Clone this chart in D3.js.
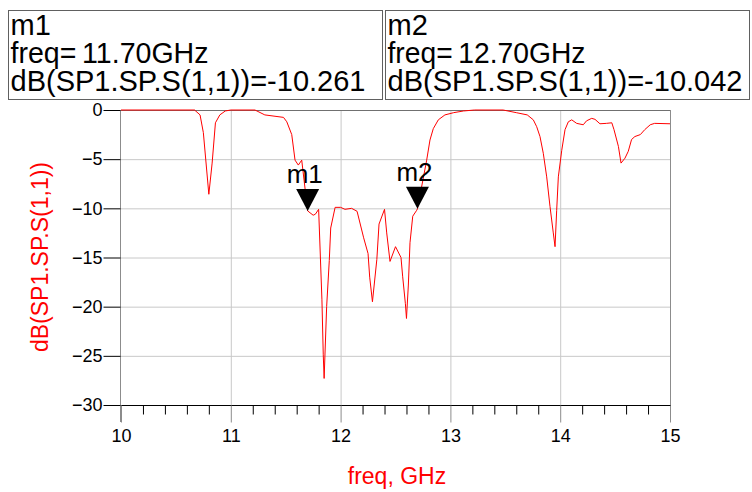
<!DOCTYPE html>
<html>
<head>
<meta charset="utf-8">
<script src="https://cdn.jsdelivr.net/npm/d3@7/dist/d3.min.js"></script>
<style>
  html, body { margin: 0; padding: 0; background: #fff; }
  svg { display: block; font-family: "Liberation Sans", Arial, sans-serif; }
</style>
</head>
<body>
<svg id="chart" width="752" height="492"></svg>
<script>
// Return loss sweep, 10–15 GHz
const freq = [10.00, 10.67, 10.72, 10.75, 10.80, 10.83, 10.86, 10.90, 10.95, 11.00,
  11.22, 11.31, 11.48, 11.51, 11.555, 11.585, 11.615, 11.646, 11.70, 11.75,
  11.77, 11.80, 11.83, 11.842, 11.85, 11.873, 11.897, 11.91, 11.95, 12.00,
  12.04, 12.10, 12.15, 12.21, 12.25, 12.265, 12.29, 12.33, 12.35, 12.40,
  12.42, 12.45, 12.50, 12.55, 12.565, 12.59, 12.60, 12.617, 12.632, 12.657,
  12.693, 12.70, 12.784, 12.814, 12.844, 12.89, 12.95, 13.03, 13.12, 13.22,
  13.48, 13.60, 13.70, 13.755, 13.786, 13.816, 13.846, 13.877, 13.907, 13.937,
  13.953, 13.968, 13.983, 14.014, 14.044, 14.074, 14.105, 14.15, 14.21, 14.24,
  14.287, 14.317, 14.362, 14.42, 14.47, 14.49, 14.53, 14.554, 14.59, 14.62,
  14.65, 14.68, 14.73, 14.77, 14.82, 14.86, 15.00];
const s11dB = [0, 0, -0.5, -2.3, -8.57, -5.4, -1.3, -0.5, -0.1, 0,
  0, -0.5, -0.75, -1.2, -2.5, -5.1, -5.6, -5.1, -10.261, -10.7,
  -10.6, -10.1, -19.3, -24.9, -27.3, -20.0, -15.3, -12.0, -9.9, -9.9,
  -10.1, -10.0, -10.3, -13.0, -14.6, -17.0, -19.5, -15.2, -11.6, -10.1,
  -12.5, -15.4, -13.9, -15.0, -16.9, -19.7, -21.2, -17.8, -13.5, -10.8,
  -10.2, -10.042, -5.1, -3.05, -1.9, -1.0, -0.5, -0.27, -0.1, 0,
  0, -0.27, -0.5, -1.0, -1.7, -2.7, -4.4, -6.8, -9.8, -12.5,
  -13.9, -10.2, -6.8, -4.1, -2.0, -1.2, -1.0, -1.36, -1.5, -1.1,
  -0.85, -0.95, -1.4, -1.36, -1.3, -2.0, -3.7, -5.4, -4.9, -4.2,
  -3.0, -2.7, -2.5, -2.0, -1.5, -1.36, -1.4];

const xTicks = [10, 11, 12, 13, 14, 15];
const xMinorTicks = d3.range(10.2, 15, 0.2).filter(v => Math.abs(v - Math.round(v)) > 1e-6);
const yTicks = [0, -5, -10, -15, -20, -25, -30];

const markerNames = ["m1", "m2"];
const markerFreq = [11.70, 12.70];
const markerValue = [-10.261, -10.042];

const traceName = "dB(SP1.SP.S(1,1))";
const xTitle = "freq, GHz";

const svg = d3.select("#chart");
const plot = { left: 121, top: 110, right: 670, bottom: 405 };

const x = d3.scaleLinear().domain([10, 15]).range([plot.left, plot.right]);
const y = d3.scaleLinear().domain([0, -30]).range([plot.top, plot.bottom]);

const gridColor = "#c8c8c8";
const frameColor = "#8c8c8c";

// grid
const grid = svg.append("g");
grid.selectAll("line.vg").data(xTicks.slice(1, -1)).join("line")
  .attr("x1", d => x(d) + 0.5).attr("x2", d => x(d) + 0.5)
  .attr("y1", plot.top).attr("y2", plot.bottom)
  .attr("stroke", gridColor).attr("stroke-width", 1);
grid.selectAll("line.hg").data(yTicks.slice(1, -1)).join("line")
  .attr("x1", plot.left).attr("x2", plot.right)
  .attr("y1", d => y(d) + 0.5).attr("y2", d => y(d) + 0.5)
  .attr("stroke", gridColor).attr("stroke-width", 1);

// frame: top and right edges, left axis line
svg.append("line").attr("x1", plot.left).attr("x2", plot.right + 1)
  .attr("y1", plot.top + 0.5).attr("y2", plot.top + 0.5)
  .attr("stroke", "#707070");
svg.append("line").attr("x1", plot.right + 0.5).attr("x2", plot.right + 0.5)
  .attr("y1", plot.top).attr("y2", plot.bottom)
  .attr("stroke", frameColor);
svg.append("line").attr("x1", plot.left - 0.5).attr("x2", plot.left - 0.5)
  .attr("y1", plot.top).attr("y2", plot.bottom)
  .attr("stroke", frameColor);

// trace
svg.append("defs").append("clipPath").attr("id", "plotclip")
  .append("rect").attr("x", plot.left).attr("y", plot.top - 1)
  .attr("width", plot.right - plot.left).attr("height", plot.bottom - plot.top + 1);
const line = d3.line().x((d, i) => x(freq[i])).y(d => y(d));
svg.append("path").datum(s11dB)
  .attr("clip-path", "url(#plotclip)")
  .attr("d", line)
  .attr("fill", "none").attr("stroke", "#ff0000").attr("stroke-width", 1);

// y axis
const yAxis = svg.append("g").attr("transform", `translate(${plot.left - 0.5},0)`)
  .call(d3.axisLeft(y).tickValues(yTicks).tickSize(17).tickPadding(1).tickSizeOuter(0)
    .tickFormat(d3.format("d")));
yAxis.select(".domain").attr("stroke", frameColor).attr("d", `M0,${plot.top}V${plot.bottom + 17}`);
yAxis.selectAll(".tick line").attr("stroke", "#000");
yAxis.selectAll(".tick text").attr("font-size", 18).attr("fill", "#000")
  .attr("font-family", "Liberation Sans, Arial, sans-serif");

// x axis: major ticks with labels, then minor ticks
const xAxis = svg.append("g").attr("transform", `translate(0,${plot.bottom + 0.5})`)
  .call(d3.axisBottom(x).tickValues(xTicks).tickSize(17).tickPadding(7).tickSizeOuter(0)
    .tickFormat(d3.format("d")));
xAxis.select(".domain").attr("stroke", "#000").attr("d", `M${plot.left},0H${plot.right + 1}`);
xAxis.selectAll(".tick line").attr("stroke", frameColor);
xAxis.selectAll(".tick text").attr("font-size", 18).attr("fill", "#000")
  .attr("font-family", "Liberation Sans, Arial, sans-serif");

const xMinor = svg.append("g").attr("transform", `translate(0,${plot.bottom + 0.5})`)
  .call(d3.axisBottom(x).tickValues(xMinorTicks).tickSize(9).tickFormat("").tickSizeOuter(0));
xMinor.select(".domain").remove();
xMinor.selectAll(".tick line").attr("stroke", "#000");

// axis titles
svg.append("text").attr("x", 397).attr("y", 484).attr("text-anchor", "middle")
  .attr("font-size", 23).attr("fill", "#ff0000").text(xTitle);
svg.append("text").attr("transform", "translate(48,257) rotate(-90)")
  .attr("text-anchor", "middle").attr("font-size", 23).attr("fill", "#ff0000")
  .text(traceName);

// markers on the trace
markerNames.forEach((name, i) => {
  const mx = x(markerFreq[i]);
  const my = y(markerValue[i]);
  svg.append("path")
    .attr("d", `M${mx},${my}L${mx - 11.5},${my - 22}L${mx + 11.5},${my - 22}Z`)
    .attr("fill", "#000");
  svg.append("text").attr("x", mx - 21).attr("y", my - 28)
    .attr("font-size", 26).attr("fill", "#000").text(name);
});

// marker readout boxes
const boxX = [8.5, 385.5];
const boxW = [374, 364];
const lineWidths = [null, 198, 355];
markerNames.forEach((name, i) => {
  const g = svg.append("g").attr("transform", `translate(${boxX[i]},10.5)`);
  g.append("rect").attr("width", boxW[i]).attr("height", 89)
    .attr("fill", "#fff").attr("stroke", "#606060").attr("stroke-width", 1);
  const lines = [
    name,
    `freq=\u2009${markerFreq[i].toFixed(2)}GHz`,
    `${traceName}=${markerValue[i].toFixed(3)}`
  ];
  g.selectAll("text").data(lines).join("text")
    .attr("x", 2).attr("y", (d, j) => 24 + j * 28)
    .attr("font-size", 29).attr("fill", "#000")
    .each(function (d, j) {
      if (lineWidths[j]) {
        d3.select(this).attr("textLength", lineWidths[j]).attr("lengthAdjust", "spacingAndGlyphs");
      }
    })
    .text(d => d);
});
</script>
</body>
</html>
